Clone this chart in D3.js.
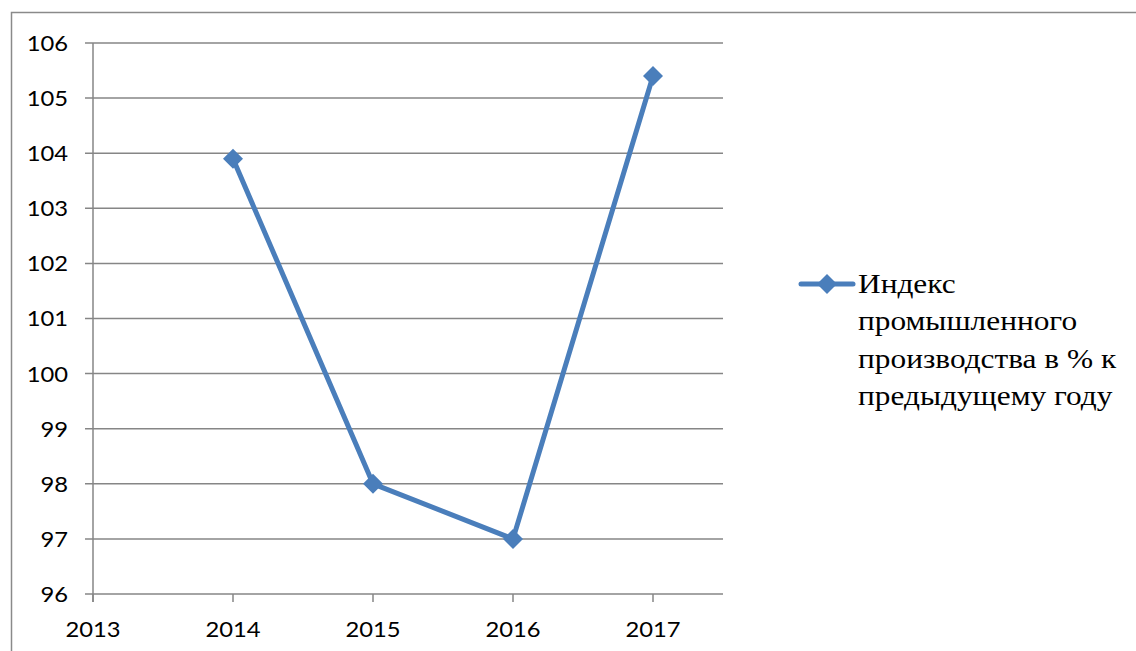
<!DOCTYPE html>
<html><head><meta charset="utf-8">
<script src="https://cdn.jsdelivr.net/npm/d3@7"></script>
<style>body{margin:0;background:#fff}svg{display:block}</style>
</head><body>
<svg id="c" width="1136" height="651"></svg>
<script>
const years = [2014, 2015, 2016, 2017];
const values = [103.9, 98, 97, 105.4];
const xTicks = [2013, 2014, 2015, 2016, 2017];
const yTicks = [96, 97, 98, 99, 100, 101, 102, 103, 104, 105, 106];
const seriesName = ["Индекс", "промышленного", "производства в % к", "предыдущему году"];

const svg = d3.select("#c");
const color = "#4a7ebb", grid = "#868686";

// outer border
svg.append("rect").attr("x", 11.5).attr("y", 12.5).attr("width", 1200).attr("height", 700)
  .attr("fill", "none").attr("stroke", "#8a8a8a").attr("stroke-width", 1.5);

const x = d3.scaleLinear().domain([2013, 2017.5]).range([93, 723]);
const y = d3.scaleLinear().domain([96, 106]).range([594, 43]);

// gridlines
svg.append("g").selectAll("line").data(yTicks).join("line")
  .attr("x1", 85).attr("x2", 723).attr("y1", d => y(d)).attr("y2", d => y(d))
  .attr("stroke", grid).attr("stroke-width", 1.5);

// y axis line
svg.append("line").attr("x1", 93).attr("x2", 93).attr("y1", y(106)).attr("y2", 602)
  .attr("stroke", grid).attr("stroke-width", 1.5);

// x ticks
svg.append("g").selectAll("line").data(xTicks).join("line")
  .attr("x1", d => x(d)).attr("x2", d => x(d)).attr("y1", 594).attr("y2", 602)
  .attr("stroke", grid).attr("stroke-width", 1.5);

const tickFont = {family: "Lato, sans-serif", size: 22};

// y labels
svg.append("g").selectAll("text").data(yTicks).join("text")
  .attr("transform", d => `translate(68,${y(d)}) scale(1.08,1)`)
  .attr("dy", "0.36em").attr("text-anchor", "end")
  .attr("font-family", tickFont.family).attr("font-size", tickFont.size).attr("fill", "#000")
  .text(d => d);

// x labels
svg.append("g").selectAll("text").data(xTicks).join("text")
  .attr("transform", d => `translate(${x(d)},637) scale(1.08,1)`)
  .attr("text-anchor", "middle")
  .attr("font-family", tickFont.family).attr("font-size", tickFont.size).attr("fill", "#000")
  .text(d => d);

// series line
const pts = years.map((yr, i) => [yr, values[i]]);
svg.append("path").datum(pts)
  .attr("d", d3.line().x(d => x(d[0])).y(d => y(d[1])))
  .attr("fill", "none").attr("stroke", color).attr("stroke-width", 5).attr("stroke-linejoin", "round");

const diamond = d3.symbol().type(d3.symbolSquare).size(200);
svg.append("g").selectAll("path").data(pts).join("path")
  .attr("d", diamond)
  .attr("transform", d => `translate(${x(d[0])},${y(d[1])}) rotate(45)`)
  .attr("fill", color);

// legend
const lg = svg.append("g");
lg.append("line").attr("x1", 801).attr("x2", 853).attr("y1", 284).attr("y2", 284)
  .attr("stroke", color).attr("stroke-width", 5).attr("stroke-linecap", "round");
lg.append("path").attr("d", diamond).attr("transform", "translate(827,284) rotate(45)").attr("fill", color);
const lt = lg.append("g").attr("transform", "translate(858,0) scale(1.12,1)");
lt.selectAll("text").data(seriesName).join("text")
  .attr("x", 0).attr("y", (d, i) => 293 + i * 37.3)
  .attr("font-family", "'Liberation Serif', 'Times New Roman', serif").attr("font-size", 28)
  .attr("fill", "#000").text(d => d);
</script>
</body></html>
